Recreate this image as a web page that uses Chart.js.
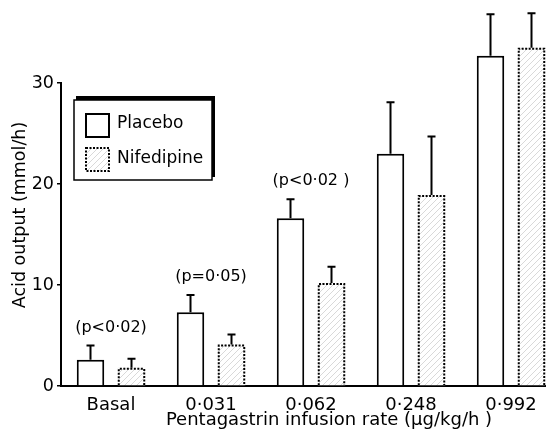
<!DOCTYPE html>
<html>
<head>
<meta charset="utf-8">
<script src="https://cdn.jsdelivr.net/npm/chart.js@4.4.0/dist/chart.umd.min.js"></script>
<style>
  html, body { margin: 0; padding: 0; background: #fff; overflow: hidden; }
  #wrap { width: 546px; height: 431px; overflow: hidden; }
</style>
</head>
<body>
<div id="wrap"><canvas id="myChart" width="575" height="431"></canvas></div>
<script>
const categories = ['Basal', '0·031', '0·062', '0·248', '0·992']
const placebo = [2.6, 7.3, 16.6, 23.0, 32.7]
const placeboErr = [4.0, 9.0, 18.5, 28.1, 36.8]
const nifedipine = [1.8, 4.1, 10.2, 18.9, 33.5]
const nifedipineErr = [2.7, 5.1, 11.8, 24.7, 36.9]
const pLabels = ['(p<0·02)', '(p=0·05)', '(p<0·02 )', '', '']
const yTicks = [0, 10, 20, 30]
const xTitle = 'Pentagastrin infusion rate (μg/kg/h )'
const yTitle = 'Acid output (mmol/h)'

const FONT = "'DejaVu Sans', sans-serif"

// hatching for the nifedipine bars
const makeHatch = () => {
    const c = document.createElement('canvas')
    c.width = 6
    c.height = 6
    const g = c.getContext('2d')
    g.fillStyle = '#fff'
    g.fillRect(0, 0, 6, 6)
    g.strokeStyle = '#cfcfcf'
    g.lineWidth = 0.8
    g.beginPath()
    g.moveTo(0, 6)
    g.lineTo(6, 0)
    g.stroke()
    return g.createPattern(c, 'repeat')
}

const errorBars = {
    id: 'errorBars',
    afterDatasetsDraw(chart) {
        const ctx = chart.ctx
        const y = chart.scales.y
        const errs = [placeboErr, nifedipineErr]
        ctx.save()
        ctx.strokeStyle = '#000'
        ctx.lineWidth = 2
        chart.data.datasets.forEach((ds, di) => {
            chart.getDatasetMeta(di).data.forEach((bar, i) => {
                const top = y.getPixelForValue(errs[di][i])
                ctx.beginPath()
                ctx.moveTo(bar.x, bar.y)
                ctx.lineTo(bar.x, top)
                ctx.moveTo(bar.x - 4, top)
                ctx.lineTo(bar.x + 4, top)
                ctx.stroke()
                if (di === 1) {
                    // dotted outline
                    const w = bar.width / 2
                    ctx.save()
                    ctx.setLineDash([2, 1.5])
                    ctx.beginPath()
                    ctx.moveTo(bar.x - w + 1, bar.base)
                    ctx.lineTo(bar.x - w + 1, bar.y + 1)
                    ctx.lineTo(bar.x + w - 1, bar.y + 1)
                    ctx.lineTo(bar.x + w - 1, bar.base)
                    ctx.stroke()
                    ctx.restore()
                }
            })
        })
        // p value labels
        ctx.fillStyle = '#000'
        ctx.font = '16px ' + FONT
        ctx.textAlign = 'center'
        ctx.textBaseline = 'middle'
        const x = chart.scales.x
        pLabels.forEach((t, i) => {
            if (!t) return
            ctx.fillText(t, x.getPixelForValue(i), y.getPixelForValue(placeboErr[i]) - 18)
        })
        ctx.restore()
    }
}

// axis titles sit a bit off-centre in the original
const axisTitles = {
    id: 'axisTitles',
    afterDraw(chart) {
        const ctx = chart.ctx
        ctx.save()
        ctx.fillStyle = '#000'
        ctx.font = '18px ' + FONT
        ctx.textAlign = 'center'
        ctx.textBaseline = 'middle'
        ctx.fillText(xTitle, 329, 420)
        ctx.translate(20, 215)
        ctx.rotate(-Math.PI / 2)
        ctx.font = '17.5px ' + FONT
        ctx.fillText(yTitle, 0, 0)
        ctx.restore()
    }
}

const boxLegend = {
    id: 'boxLegend',
    afterDraw(chart) {
        const ctx = chart.ctx
        ctx.save()
        ctx.fillStyle = '#000'
        ctx.fillRect(76, 96, 139, 81)
        ctx.fillStyle = '#fff'
        ctx.fillRect(74, 100, 138, 80)
        ctx.strokeStyle = '#000'
        ctx.lineWidth = 1.5
        ctx.strokeRect(74, 100, 138, 80)
        ctx.lineWidth = 2
        ctx.strokeRect(86, 114, 23, 23)
        ctx.fillStyle = makeHatch()
        ctx.fillRect(86, 148, 23, 23)
        ctx.setLineDash([2, 1.5])
        ctx.strokeRect(86, 148, 23, 23)
        ctx.setLineDash([])
        ctx.fillStyle = '#000'
        ctx.font = '17px ' + FONT
        ctx.textAlign = 'left'
        ctx.textBaseline = 'middle'
        ctx.fillText(chart.data.datasets[0].label, 117, 124)
        ctx.fillText(chart.data.datasets[1].label, 117, 159)
        ctx.restore()
    }
}

const ctx = document.getElementById('myChart')
new Chart(ctx, {
    type: 'bar',
    data: {
        labels: categories,
        datasets: [{
            label: 'Placebo',
            data: placebo,
            backgroundColor: '#fff',
            borderColor: '#000',
            borderWidth: 2,
            borderSkipped: 'bottom',
        }, {
            label: 'Nifedipine',
            data: nifedipine,
            backgroundColor: makeHatch(),
            borderColor: 'rgba(0,0,0,0)',
            borderWidth: 0,
        }]
    },
    options: {
        responsive: false,
        animation: false,
        clip: false,
        categoryPercentage: 0.82,
        barPercentage: 0.67,
        layout: { padding: { top: 83, right: 14, left: 0, bottom: 0 } },
        plugins: {
            legend: { display: false },
            tooltip: { enabled: false },
        },
        scales: {
            x: {
                grid: { display: false },
                border: { display: true, color: '#000', width: 2 },
                ticks: { color: '#000', font: { family: FONT, size: 18 }, padding: 1 },
                afterFit: (s) => { s.height = 45 },
            },
            y: {
                min: 0,
                max: 30,
                afterBuildTicks: (s) => { s.ticks = yTicks.map(v => ({ value: v })) },
                grid: { drawOnChartArea: false, drawTicks: true, tickLength: 4, color: '#000', lineWidth: 1.5 },
                border: { display: true, color: '#000', width: 2 },
                ticks: { color: '#000', font: { family: FONT, size: 17.5 }, padding: 3 },
                afterFit: (s) => { s.width = 61 },
            }
        }
    },
    plugins: [errorBars, axisTitles, boxLegend]
});
</script>
</body>
</html>
